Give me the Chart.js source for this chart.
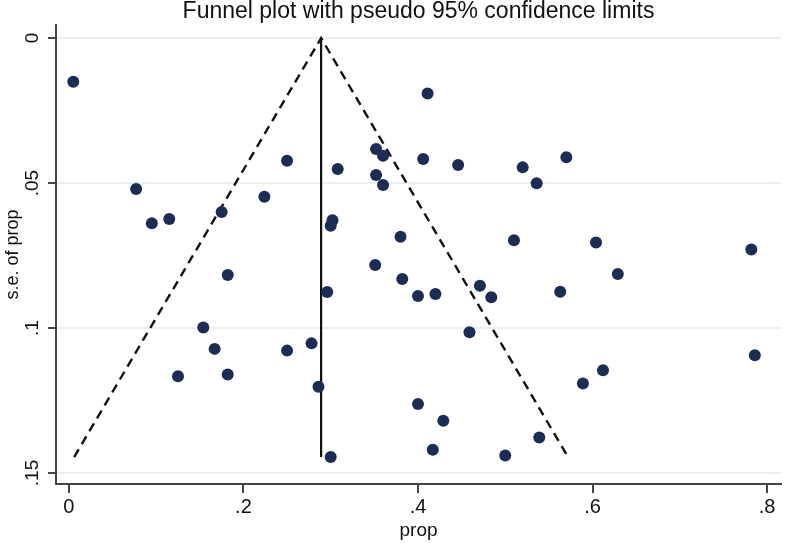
<!DOCTYPE html>
<html>
<head>
<meta charset="utf-8">
<script src="https://cdn.jsdelivr.net/npm/chart.js@4.4.1/dist/chart.umd.min.js"></script>
<style>
  html, body { margin: 0; padding: 0; background: #fff; }
  #wrap { width: 787px; height: 543px; }
</style>
</head>
<body>
<div id="wrap"><canvas id="funnel"></canvas></div>
<script>
// study proportions and their standard errors
const prop = [0.005, 0.077, 0.095, 0.115, 0.175, 0.224, 0.250, 0.182, 0.154, 0.167,
  0.125, 0.182, 0.250, 0.278, 0.286, 0.296, 0.300, 0.302, 0.300, 0.308,
  0.352, 0.360, 0.352, 0.360, 0.351, 0.380, 0.382, 0.400, 0.420, 0.411,
  0.406, 0.446, 0.520, 0.536, 0.570, 0.510, 0.604, 0.782, 0.629, 0.471,
  0.484, 0.563, 0.459, 0.786, 0.612, 0.589, 0.400, 0.429, 0.417, 0.500, 0.539];
const seProp = [0.0151, 0.0521, 0.0639, 0.0624, 0.0600, 0.0547, 0.0423, 0.0817, 0.0998, 0.1072,
  0.1166, 0.1160, 0.1078, 0.1053, 0.1203, 0.0876, 0.1445, 0.0628, 0.0647, 0.0452,
  0.0383, 0.0406, 0.0472, 0.0507, 0.0783, 0.0685, 0.0831, 0.0890, 0.0883, 0.0191,
  0.0417, 0.0438, 0.0446, 0.0501, 0.0411, 0.0697, 0.0705, 0.0729, 0.0814, 0.0854,
  0.0894, 0.0875, 0.1015, 0.1094, 0.1146, 0.1191, 0.1262, 0.1320, 0.1420, 0.1440, 0.1378];

// pseudo 95% limits (dashed) and pooled estimate (solid)
const limitX = [0.006, 0.289, 0.572];
const limitY = [0.1445, 0, 0.1445];
const pooledX = [0.289, 0.289];
const pooledY = [0, 0.1445];

const xTicks = [0, 0.2, 0.4, 0.6, 0.8];
const yTicks = [0, 0.05, 0.1, 0.15];

const pts = (xs, ys) => xs.map((x, i) => ({ x: x, y: ys[i] }));
const fmt = v => (v === 0 ? '0' : String(v).replace(/^0\./, '.'));
const FONT = '"Liberation Sans", Arial, sans-serif';

// stata-style rotated y tick labels
const yLabels = {
  id: 'yLabels',
  afterDraw(chart) {
    const c = chart.ctx, sc = chart.scales.y;
    c.save();
    c.fillStyle = '#111';
    c.font = '19px ' + FONT;
    c.textAlign = 'center';
    c.textBaseline = 'middle';
    yTicks.forEach(v => {
      c.save();
      c.translate(33, sc.getPixelForValue(v));
      c.rotate(-Math.PI / 2);
      c.fillText(fmt(v), 0, 0);
      c.restore();
    });
    c.restore();
  }
};

new Chart(document.getElementById('funnel'), {
  type: 'scatter',
  data: {
    datasets: [{
      data: pts(prop, seProp),
      backgroundColor: '#1c2c55',
      borderWidth: 0,
      pointRadius: 6,
      pointHoverRadius: 6
    }, {
      data: pts(limitX, limitY),
      showLine: true,
      borderColor: '#111',
      borderWidth: 2.4,
      borderDash: [9, 6],
      pointRadius: 0
    }, {
      data: pts(pooledX, pooledY),
      showLine: true,
      borderColor: '#111',
      borderWidth: 2.2,
      pointRadius: 0
    }]
  },
  options: {
    responsive: true,
    maintainAspectRatio: false,
    animation: false,
    layout: { padding: { right: 2 } },
    plugins: {
      legend: { display: false },
      tooltip: { enabled: false },
      title: {
        display: true,
        fullSize: false,
        text: 'Funnel plot with pseudo 95% confidence limits',
        color: '#111',
        font: { family: FONT, size: 23, weight: 'normal', lineHeight: 1 },
        padding: { top: 0, bottom: 2 }
      }
    },
    scales: {
      x: {
        min: -0.0148,
        max: 0.816,
        afterBuildTicks: s => { s.ticks = xTicks.map(v => ({ value: v })); },
        afterFit: s => { s.height = 59; },
        grid: { drawOnChartArea: false, drawTicks: true, tickLength: 9, tickColor: '#444', lineWidth: 2 },
        border: { color: '#444', width: 2 },
        ticks: {
          color: '#111',
          padding: 2,
          font: { family: FONT, size: 20 },
          callback: v => fmt(v)
        },
        title: {
          display: true,
          text: 'prop',
          color: '#111',
          font: { family: FONT, size: 19 },
          padding: { top: 0, bottom: 1 }
        }
      },
      y: {
        reverse: true,
        min: -0.0045,
        max: 0.1538,
        afterBuildTicks: s => { s.ticks = yTicks.map(v => ({ value: v })); },
        afterFit: s => { s.width = 56; },
        grid: { color: '#e9f0f3', lineWidth: 2, tickColor: '#444', tickLength: 8 },
        border: { color: '#444', width: 2 },
        ticks: { display: false },
        title: {
          display: true,
          text: 's.e. of prop',
          color: '#111',
          font: { family: FONT, size: 18 },
          padding: { top: 2, bottom: 0 }
        }
      }
    }
  },
  plugins: [yLabels]
});
</script>
</body>
</html>
